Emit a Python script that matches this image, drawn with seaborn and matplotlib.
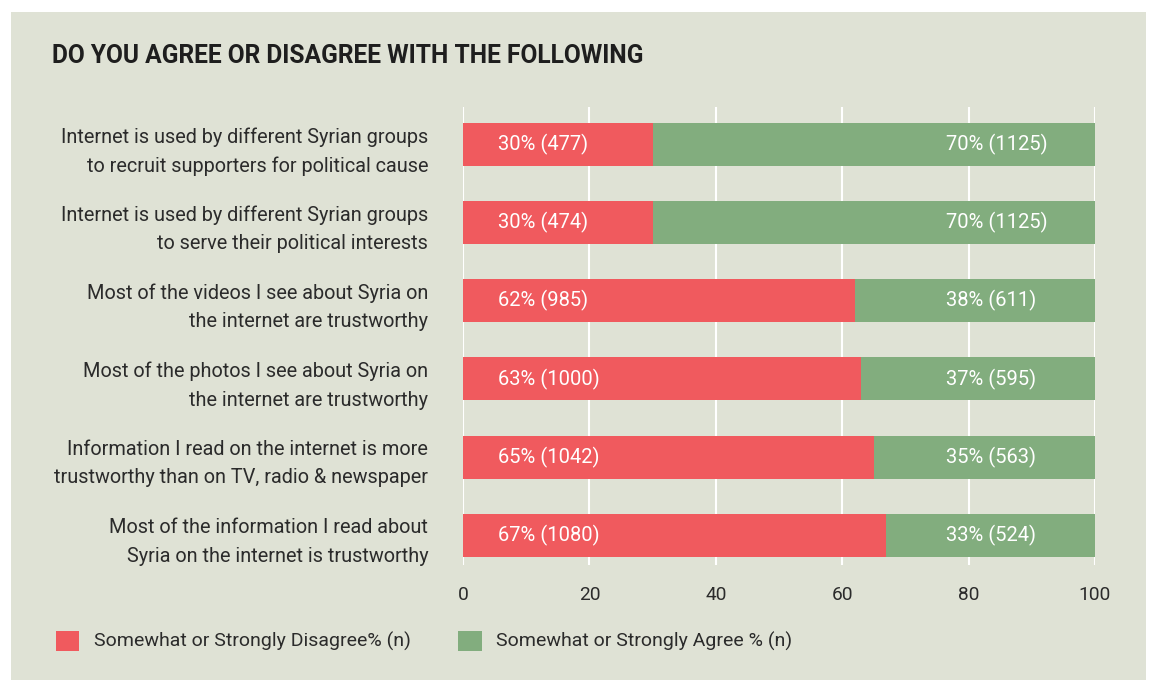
import matplotlib
matplotlib.use("Agg")
import matplotlib.pyplot as plt
from matplotlib.patches import Rectangle, Patch
import seaborn as sns
import pandas as pd

statements = [
    "Internet is used by different Syrian groups\nto recruit supporters for political cause",
    "Internet is used by different Syrian groups\nto serve their political interests",
    "Most of the videos I see about Syria on\nthe internet are trustworthy",
    "Most of the photos I see about Syria on\nthe internet are trustworthy",
    "Information I read on the internet is more\ntrustworthy than on TV, radio & newspaper",
    "Most of the information I read about\nSyria on the internet is trustworthy",
]
disagree_pct = [30, 30, 62, 63, 65, 67]
disagree_n = [477, 474, 985, 1000, 1042, 1080]
agree_pct = [70, 70, 38, 37, 35, 33]
agree_n = [1125, 1125, 611, 595, 563, 524]
x_ticks = [0, 20, 40, 60, 80, 100]
title = "DO YOU AGREE OR DISAGREE WITH THE FOLLOWING"
legend_labels = ["Somewhat or Strongly Disagree% (n)", "Somewhat or Strongly Agree % (n)"]

RED = "#f05a5e"
GREEN = "#82ad7e"
PANEL = "#dfe2d5"
TEXT = "#2b2b2b"

sns.set_theme(style="white")
plt.rcParams["font.family"] = ["Roboto", "DejaVu Sans"]

df = pd.DataFrame({
    "statement": statements,
    "disagree": disagree_pct,
    "agree": agree_pct,
})
df["stack_total"] = df["disagree"] + df["agree"]

fig = plt.figure(figsize=(11.51, 6.8), dpi=100)
fig.patch.set_facecolor("white")
fig.patches.append(Rectangle((11 / 1151, 0), 1135 / 1151, 668 / 680,
                             transform=fig.transFigure, facecolor=PANEL,
                             edgecolor="none", zorder=-5))

ax = fig.add_axes([463 / 1151, 1 - 565 / 680, 632 / 1151, 458 / 680])
ax.set_facecolor("none")

# agree segment stacked after the disagree segment
sns.barplot(data=df, x="stack_total", y="statement", color=GREEN, width=0.55,
            saturation=1, linewidth=0, edgecolor="none", ax=ax, zorder=2)
sns.barplot(data=df, x="disagree", y="statement", color=RED, width=0.55,
            saturation=1, linewidth=0, edgecolor="none", ax=ax, zorder=3)

for i in range(len(statements)):
    ax.text(5.5, i, f"{disagree_pct[i]}% ({disagree_n[i]})", color="white",
            fontsize=14.5, va="center", ha="left", zorder=4)
    ax.text(76.4, i, f"{agree_pct[i]}% ({agree_n[i]})", color="white",
            fontsize=14.5, va="center", ha="left", zorder=4)

ax.set_xlim(0, 100)
ax.set_ylim(5.38, -0.48)
ax.set_xticks(x_ticks)
ax.set_xticklabels([str(t) for t in x_ticks])
ax.xaxis.grid(True, color="white", linewidth=1.5, zorder=1)
ax.set_axisbelow(True)
ax.tick_params(axis="x", length=0, pad=15, labelsize=13.8, labelcolor=TEXT)
ax.tick_params(axis="y", length=0, pad=25, labelsize=14.3, labelcolor=TEXT)
for lbl in ax.get_yticklabels():
    lbl.set_linespacing(1.62)
    lbl.set_horizontalalignment("right")
    lbl.set_multialignment("right")
ax.set_xlabel("")
ax.set_ylabel("")
for s in ax.spines.values():
    s.set_visible(False)

fig.text(52 / 1151, 1 - 56 / 680, title, fontsize=17.7, fontweight="bold",
         color="#1e1e1e", va="center", ha="left")

handles = [Patch(facecolor=RED, edgecolor="none"), Patch(facecolor=GREEN, edgecolor="none")]
fig.legend(handles, legend_labels, loc="center left",
           bbox_to_anchor=(48 / 1151, 1 - 641 / 680), ncol=2, frameon=False,
           fontsize=14, labelcolor=TEXT, handlelength=1.2, handleheight=1.2,
           handletextpad=0.75, columnspacing=2.45, borderaxespad=0)

fig.savefig("out.png", dpi=100, facecolor=fig.get_facecolor())
